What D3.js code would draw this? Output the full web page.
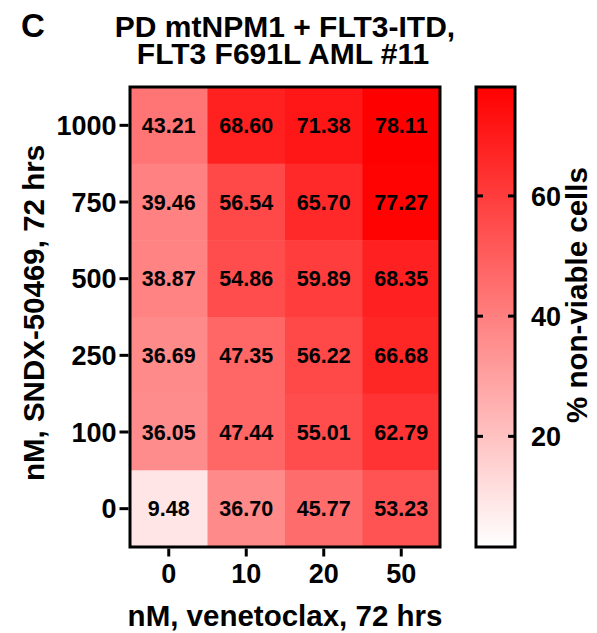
<!DOCTYPE html>
<html><head><meta charset="utf-8">
<script src="https://cdn.jsdelivr.net/npm/d3@7"></script>
<style>
html,body{margin:0;padding:0;background:#fff;}
svg text{font-family:"Liberation Sans",Arial,Helvetica,sans-serif;font-weight:bold;fill:#000;}
</style></head>
<body>
<script>
const venetoclax = ["0","10","20","50"];
const sndx = ["1000","750","500","250","100","0"];
const row1000 = [43.21, 68.60, 71.38, 78.11];
const row750  = [39.46, 56.54, 65.70, 77.27];
const row500  = [38.87, 54.86, 59.89, 68.35];
const row250  = [36.69, 47.35, 56.22, 66.68];
const row100  = [36.05, 47.44, 55.01, 62.79];
const row0    = [9.48, 36.70, 45.77, 53.23];
const colorTicks = [20, 40, 60];
const colorMin = 1.6, colorMax = 78.11;
const titleLines = ["PD mtNPM1 + FLT3-ITD,", "FLT3 F691L AML #11"];

const rows = [row1000, row750, row500, row250, row100, row0];
const cells = [];
rows.forEach((r, i) => r.forEach((v, j) => cells.push({row: sndx[i], col: venetoclax[j], v})));

const W = 597, H = 633;
const svg = d3.select("body").append("svg").attr("width", W).attr("height", H);

function label(x0, y0, txt, size, anchor, rot) {
  return svg.append("text")
    .attr("transform", `translate(${x0},${y0})` + (rot ? ` rotate(${rot})` : ""))
    .attr("text-anchor", anchor || "start")
    .style("font-size", size + "px").text(txt);
}

const L = 130, R = 440, T = 87, B = 547;
const x = d3.scaleBand().domain(venetoclax).range([L, R]).padding(0);
const y = d3.scaleBand().domain(sndx).range([T, B]).padding(0);
const color = d3.scaleLinear().domain([colorMin, colorMax]).range(["#ffffff", "#ff0000"]).clamp(true);

// cells
svg.append("g").selectAll("rect").data(cells).join("rect")
  .attr("x", d => x(d.col)).attr("y", d => y(d.row))
  .attr("width", x.bandwidth() + 0.5).attr("height", y.bandwidth() + 0.5)
  .attr("fill", d => color(d.v));

svg.append("g").selectAll("text").data(cells).join("text")
  .attr("x", d => x(d.col) + x.bandwidth()/2)
  .attr("y", d => y(d.row) + y.bandwidth()/2 + 7.7)
  .attr("text-anchor", "middle")
  .style("font-size", "21.5px")
  .text(d => d.v.toFixed(2));

// frame
svg.append("rect").attr("x", L).attr("y", T).attr("width", R-L).attr("height", B-T)
  .attr("fill", "none").attr("stroke", "#000").attr("stroke-width", 3);

// y axis
const yAx = svg.append("g").attr("transform", `translate(${L-1.5},0)`)
  .call(d3.axisLeft(y).tickSize(9).tickPadding(3));
yAx.select(".domain").remove();
yAx.selectAll(".tick line").attr("stroke", "#000").attr("stroke-width", 3);
yAx.selectAll(".tick text").style("font-size", "27px").attr("dy", "0.36em");

// x axis
const xAx = svg.append("g").attr("transform", `translate(0,${B+1.5})`)
  .call(d3.axisBottom(x).tickSize(8).tickPadding(7));
xAx.select(".domain").remove();
xAx.selectAll(".tick line").attr("stroke", "#000").attr("stroke-width", 3);
xAx.selectAll(".tick text").style("font-size", "27px");

// axis titles
label(285, 626, "nM, venetoclax, 72 hrs", 29.5, "middle");
label(44, 313, "nM, SNDX-50469, 72 hrs", 29.5, "middle", -90);

// title (one text element, two lines)
const title = svg.append("text").attr("text-anchor", "middle").style("font-size", "30px");
title.append("tspan").attr("x", 285).attr("y", 37).text(titleLines[0]);
title.append("tspan").attr("x", 283).attr("y", 64).text(titleLines[1]);
label(21, 37, "C", 33, "start");

// colorbar
const CL = 476, CR = 515;
const cy = d3.scaleLinear().domain([colorMin, colorMax]).range([B, T]);
const defs = svg.append("defs");
const grad = defs.append("linearGradient").attr("id", "cb").attr("x1", 0).attr("y1", 1).attr("x2", 0).attr("y2", 0);
grad.selectAll("stop").data([colorMin, colorMax]).join("stop")
  .attr("offset", (d, i) => i).attr("stop-color", d => color(d));
svg.append("rect").attr("x", CL).attr("y", T).attr("width", CR-CL).attr("height", B-T)
  .attr("fill", "url(#cb)");
svg.append("g").selectAll("line.l").data(colorTicks).join("line")
  .attr("x1", CL).attr("x2", CL+7).attr("y1", d => cy(d)).attr("y2", d => cy(d))
  .attr("stroke", "#000").attr("stroke-width", 3);
svg.append("g").selectAll("line.r").data(colorTicks).join("line")
  .attr("x1", CR-7).attr("x2", CR).attr("y1", d => cy(d)).attr("y2", d => cy(d))
  .attr("stroke", "#000").attr("stroke-width", 3);
svg.append("rect").attr("x", CL).attr("y", T).attr("width", CR-CL).attr("height", B-T)
  .attr("fill", "none").attr("stroke", "#000").attr("stroke-width", 3);
colorTicks.forEach(t => label(531, cy(t) + 9.7, String(t), 27, "start"));
label(587, 295, "% non-viable cells", 29.5, "middle", -90);
</script>
</body></html>
